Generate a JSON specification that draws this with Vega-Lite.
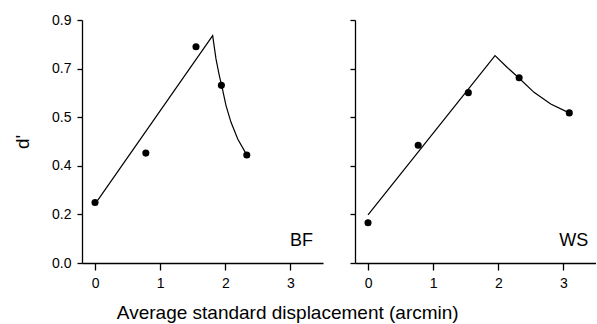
{
  "$schema": "https://vega.github.io/schema/vega-lite/v6.json",
  "padding": {"left": 13, "top": 13, "right": 0, "bottom": 0},
  "background": "white",
  "config": {
    "font": "Liberation Sans",
    "view": {"stroke": null},
    "axis": {
      "domainColor": "black",
      "tickColor": "black",
      "labelColor": "black",
      "titleColor": "black",
      "grid": false,
      "labelFont": "Liberation Sans",
      "titleFont": "Liberation Sans",
      "labelFontSize": 14,
      "domainWidth": 1.3,
      "tickWidth": 1.3
    },
    "title": {"font": "Liberation Sans", "color": "black"}
  },
  "title": {
    "text": "Average standard displacement (arcmin)",
    "orient": "bottom",
    "anchor": "middle",
    "fontSize": 19,
    "fontWeight": "normal",
    "offset": 14,
    "dx": -17
  },
  "datasets": {
    "points": [
      {"panel": "BF", "x": 0.0, "y": 0.224},
      {"panel": "BF", "x": 0.78, "y": 0.407},
      {"panel": "BF", "x": 1.55, "y": 0.801},
      {"panel": "BF", "x": 1.94, "y": 0.658},
      {"panel": "BF", "x": 2.33, "y": 0.4},
      {"panel": "WS", "x": 0.0, "y": 0.149},
      {"panel": "WS", "x": 0.77, "y": 0.436},
      {"panel": "WS", "x": 1.54, "y": 0.631},
      {"panel": "WS", "x": 2.32, "y": 0.686},
      {"panel": "WS", "x": 3.09, "y": 0.556}
    ],
    "fit": [
      {"panel": "BF", "x": 0.0, "y": 0.218},
      {"panel": "BF", "x": 1.806, "y": 0.842},
      {"panel": "BF", "x": 1.857, "y": 0.756},
      {"panel": "BF", "x": 1.908, "y": 0.694},
      {"panel": "BF", "x": 1.945, "y": 0.657},
      {"panel": "BF", "x": 2.011, "y": 0.583},
      {"panel": "BF", "x": 2.088, "y": 0.521},
      {"panel": "BF", "x": 2.191, "y": 0.459},
      {"panel": "BF", "x": 2.32, "y": 0.404},
      {"panel": "WS", "x": 0.0, "y": 0.178},
      {"panel": "WS", "x": 1.95, "y": 0.768},
      {"panel": "WS", "x": 2.138, "y": 0.724},
      {"panel": "WS", "x": 2.317, "y": 0.685},
      {"panel": "WS", "x": 2.548, "y": 0.632},
      {"panel": "WS", "x": 2.805, "y": 0.589},
      {"panel": "WS", "x": 3.087, "y": 0.556}
    ],
    "labels": [
      {"panel": "BF", "x": 3.345, "y": 0.064, "label": "BF"},
      {"panel": "WS", "x": 3.38, "y": 0.064, "label": "WS"}
    ]
  },
  "spacing": 26,
  "hconcat": [
    {
      "width": 241,
      "height": 243,
      "layer": [
        {
          "data": {"name": "fit"},
          "transform": [{"filter": "datum.panel === 'BF'"}],
          "mark": {"type": "line", "color": "black", "strokeWidth": 1.2},
          "encoding": {
            "x": {"field": "x", "type": "quantitative", "scale": {"domain": [-0.2, 3.5], "nice": false, "zero": false},
                  "axis": {"values": [0, 1, 2, 3], "format": "d", "title": null, "tickSize": 7, "labelPadding": 6}},
            "y": {"field": "y", "type": "quantitative", "scale": {"domain": [0, 0.9], "nice": false},
                  "axis": {"values": [0, 0.18, 0.36, 0.54, 0.72, 0.9], "format": ".1f", "title": "d'", "titleFontSize": 19, "titleFontWeight": "normal", "titlePadding": 19, "tickSize": 5, "labelPadding": 6}}
          }
        },
        {
          "data": {"name": "points"},
          "transform": [{"filter": "datum.panel === 'BF'"}],
          "mark": {"type": "point", "filled": true, "color": "black", "size": 50, "opacity": 1},
          "encoding": {
            "x": {"field": "x", "type": "quantitative"},
            "y": {"field": "y", "type": "quantitative"}
          }
        },
        {
          "data": {"name": "labels"},
          "transform": [{"filter": "datum.panel === 'BF'"}],
          "mark": {"type": "text", "align": "right", "baseline": "alphabetic", "fontSize": 18, "color": "black"},
          "encoding": {
            "x": {"field": "x", "type": "quantitative"},
            "y": {"field": "y", "type": "quantitative"},
            "text": {"field": "label"}
          }
        }
      ]
    },
    {
      "width": 241,
      "height": 243,
      "layer": [
        {
          "data": {"name": "fit"},
          "transform": [{"filter": "datum.panel === 'WS'"}],
          "mark": {"type": "line", "color": "black", "strokeWidth": 1.2},
          "encoding": {
            "x": {"field": "x", "type": "quantitative", "scale": {"domain": [-0.2, 3.5], "nice": false, "zero": false},
                  "axis": {"values": [0, 1, 2, 3], "format": "d", "title": null, "tickSize": 7, "labelPadding": 6}},
            "y": {"field": "y", "type": "quantitative", "scale": {"domain": [0, 0.9], "nice": false},
                  "axis": {"values": [0, 0.18, 0.36, 0.54, 0.72, 0.9], "labels": false, "title": null, "tickSize": 5}}
          }
        },
        {
          "data": {"name": "points"},
          "transform": [{"filter": "datum.panel === 'WS'"}],
          "mark": {"type": "point", "filled": true, "color": "black", "size": 50, "opacity": 1},
          "encoding": {
            "x": {"field": "x", "type": "quantitative"},
            "y": {"field": "y", "type": "quantitative"}
          }
        },
        {
          "data": {"name": "labels"},
          "transform": [{"filter": "datum.panel === 'WS'"}],
          "mark": {"type": "text", "align": "right", "baseline": "alphabetic", "fontSize": 18, "color": "black"},
          "encoding": {
            "x": {"field": "x", "type": "quantitative"},
            "y": {"field": "y", "type": "quantitative"},
            "text": {"field": "label"}
          }
        }
      ]
    }
  ]
}
